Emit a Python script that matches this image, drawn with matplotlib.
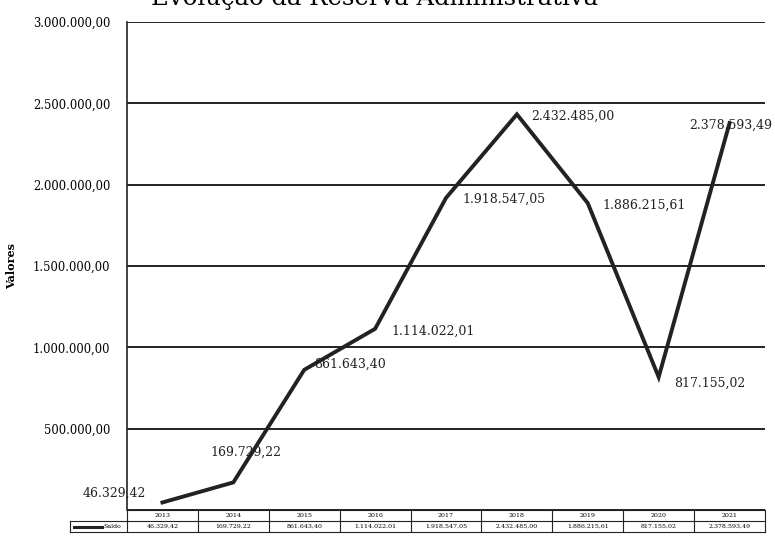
import matplotlib.pyplot as plt
from matplotlib.lines import Line2D
import matplotlib.transforms as mtransforms

plt.rcParams['font.family'] = ['DejaVu Serif']

anos = ['2013', '2014', '2015', '2016', '2017', '2018', '2019', '2020', '2021']
saldo = [46329.42, 169729.22, 861643.40, 1114022.01, 1918547.05,
         2432485.00, 1886215.61, 817155.02, 2378593.49]
serie_nome = 'Saldo'
titulo = 'Evolução da Reserva Administrativa'


def br(v):
    s = f'{v:,.2f}'
    return s.replace(',', 'X').replace('.', ',').replace('X', '.')


# label offsets in pixels (dx, dy, ha)
label_pos = [(-16, 9, 'right'), (-23, 30, 'left'), (10, 6, 'left'),
             (16, -2, 'left'), (16, -1, 'left'), (14, -2, 'left'),
             (15, -2, 'left'), (15, -6, 'left'), (43, -2, 'right')]

fig = plt.figure(figsize=(7.75, 5.39), dpi=100)
ax = fig.add_axes([127 / 775, 1 - 510 / 539, 638 / 775, 488 / 539])

x = list(range(len(anos)))
ax.plot(x, saldo, color='#222222', lw=2.8, solid_joinstyle='miter', zorder=3)

ax.set_xlim(-0.5, len(anos) - 0.5)
ax.set_ylim(0, 3000000)
yt = [0, 500000, 1000000, 1500000, 2000000, 2500000, 3000000]
ax.set_yticks(yt)
ax.set_yticklabels(['' if v == 0 else br(v) for v in yt], fontsize=8.3)
ax.tick_params(axis='y', length=0, pad=12)
ax.set_xticks([])
ax.yaxis.grid(True, color='#222222', lw=1.4)
ax.set_axisbelow(True)
for s in ['top', 'right', 'bottom']:
    ax.spines[s].set_visible(False)
ax.spines['left'].set_color('#222222')
ax.spines['left'].set_linewidth(1.2)
ax.set_ylabel('Valores', fontsize=8, fontweight='bold', labelpad=11)

for i, v in enumerate(saldo):
    dx, dy, ha = label_pos[i]
    ax.annotate(br(v), (i, v), xytext=(dx, dy), textcoords='offset pixels',
                ha=ha, va='center', fontsize=9, color='#222222',
                annotation_clip=False, zorder=4)

# data table under the plot
tr = mtransforms.blended_transform_factory(ax.transData, ax.transAxes)
h = 11 / 488
y0, y1, y2 = 0, -h, -2 * h
left = -0.5 - 57 / 70.9
right = len(anos) - 0.5
kw = dict(color='#222222', lw=0.8, transform=tr, clip_on=False)
ax.add_line(Line2D([left, right], [y2, y2], **kw))
ax.add_line(Line2D([left, right], [y1, y1], **kw))
ax.add_line(Line2D([-0.5, right], [y0, y0], **kw))
ax.add_line(Line2D([left, left], [y1, y2], **kw))
for i in range(len(anos) + 1):
    ax.add_line(Line2D([i - 0.5, i - 0.5], [y0, y2], **kw))
for i, a in enumerate(anos):
    ax.text(i, (y0 + y1) / 2, a, transform=tr, ha='center', va='center',
            fontsize=4.5)
    ax.text(i, (y1 + y2) / 2, br(saldo[i]), transform=tr, ha='center',
            va='center', fontsize=4.5)
ax.add_line(Line2D([left + 0.05, left + 0.45], [(y1 + y2) / 2] * 2,
                   color='#222222', lw=2.2, transform=tr, clip_on=False))
ax.text(left + 0.47, (y1 + y2) / 2, serie_nome, transform=tr, ha='left',
        va='center', fontsize=4.5)

fig.text(375 / 775, 1 - 5 / 539, titulo, ha='center', va='baseline',
         fontsize=17.5)

fig.savefig('out.png', dpi=100)
